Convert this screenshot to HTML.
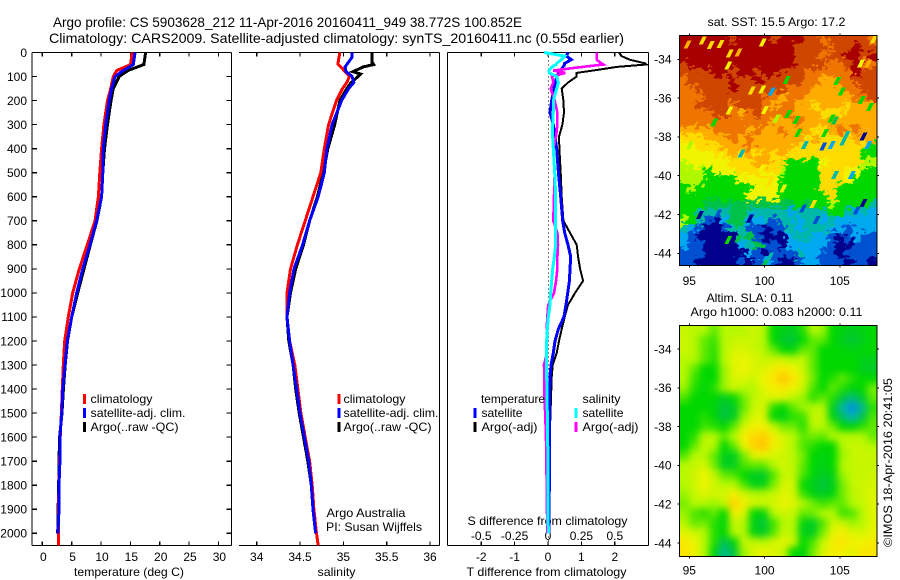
<!DOCTYPE html>
<html>
<head>
<meta charset="utf-8">
<title>Argo profile</title>
<style>
html,body{margin:0;padding:0;background:#fff;}
svg{display:block;}
text{font-family:"Liberation Sans",sans-serif;font-size:12px;fill:#000;}
</style>
</head>
<body>
<svg id="chart" xmlns="http://www.w3.org/2000/svg" width="900" height="580" viewBox="0 0 900 580">
<defs>
<clipPath id="clip-sst"><rect x="679.5" y="35.5" width="197.5" height="230"/></clipPath>
<clipPath id="clip-sla"><rect x="679.5" y="325.5" width="197.5" height="231"/></clipPath>
<filter id="smooth" x="-5%" y="-5%" width="110%" height="110%" color-interpolation-filters="sRGB"><feGaussianBlur stdDeviation="3.6"/></filter>
<filter id="jagged" filterUnits="userSpaceOnUse" x="660" y="20" width="240" height="260" color-interpolation-filters="sRGB">
<feTurbulence type="fractalNoise" baseFrequency="0.18 0.25" numOctaves="2" seed="4" result="noise"/>
<feDisplacementMap in="SourceGraphic" in2="noise" scale="16" xChannelSelector="R" yChannelSelector="G"/>
</filter>
</defs>
<text x="53" y="27" font-size="14" style="font-size:14px" textLength="469" lengthAdjust="spacingAndGlyphs">Argo profile: CS 5903628_212 11-Apr-2016 20160411_949 38.772S 100.852E</text>
<text x="49" y="43" style="font-size:14px" textLength="575" lengthAdjust="spacingAndGlyphs">Climatology: CARS2009. Satellite-adjusted climatology: synTS_20160411.nc (0.55d earlier)</text>
<text x="707.5" y="26" textLength="138" lengthAdjust="spacingAndGlyphs">sat. SST: 15.5 Argo: 17.2</text>
<text x="706.5" y="302" textLength="87" lengthAdjust="spacingAndGlyphs">Altim. SLA: 0.11</text>
<text x="690.5" y="316" textLength="172" lengthAdjust="spacingAndGlyphs">Argo h1000: 0.083 h2000: 0.11</text>
<text transform="translate(892,547) rotate(-90)" textLength="169" lengthAdjust="spacingAndGlyphs">©IMOS 18-Apr-2016 20:41:05</text>
<text x="326.5" y="517" textLength="79" lengthAdjust="spacingAndGlyphs">Argo Australia</text>
<text x="326" y="531" textLength="96" lengthAdjust="spacingAndGlyphs">PI: Susan Wijffels</text>
<text x="74" y="576" textLength="110" lengthAdjust="spacingAndGlyphs">temperature (deg C)</text>
<text x="317.5" y="576" textLength="38" lengthAdjust="spacingAndGlyphs">salinity</text>
<text x="466.5" y="576" textLength="160" lengthAdjust="spacingAndGlyphs">T difference from climatology</text>
<text x="467.5" y="525" textLength="160" lengthAdjust="spacingAndGlyphs">S difference from climatology</text>
</svg>
<script>
// ---- profile data ----
const depthTicks = [0,100,200,300,400,500,600,700,800,900,1000,1100,1200,1300,1400,1500,1600,1700,1800,1900,2000];
const tempTicks = [0,5,10,15,20,25,30];
const salTicks = [34,34.5,35,35.5,36];
const diffTicks = [-2,-1,0,1,2];
const salDiffLabels = ['-0.5','-0.25','0','0.25','0.5'];
const latTicks = [-34,-36,-38,-40,-42,-44];
const lonTicks = [95,100,105];

const tempDepths = [0,50,75,100,150,200,300,400,500,600,700,800,900,1000,1100,1200,1300,1400,1500,1600,1700,1800,1900,2000,2050];
const tempClim = [15.3,15.05,12.7,12.1,11.65,11.1,10.5,10.1,9.8,9.55,8.98,7.67,6.3,5.18,4.43,3.81,3.58,3.4,3.25,3.05,2.95,2.85,2.72,2.72,2.72];
const tempSat = [15.8,15.5,13.8,12.4,11.8,11.4,10.8,10.4,10.3,10.1,9.25,8.13,6.88,5.86,5.0,4.26,3.87,3.5,3.3,3.0,3.0,2.85,2.85,2.65];
const tempArgo = [17.6,17.3,14.6,13.1,12.1,11.7,11.1,10.6,10.3,10.1,9.3,8.2,7.1,6.03,5.0,4.3,3.9,3.6,3.35,2.95,2.85,2.8,2.7,2.62];

const salDepths = [0,20,40,50,60,80,90,100,125,150,200,300,400,500,600,700,800,900,1000,1100,1200,1300,1400,1500,1600,1700,1800,1900,2000,2050];
const salClim = [34.96,34.95,34.94,34.94,34.97,35.02,35.05,35.07,35.04,34.99,34.92,34.83,34.78,34.74,34.65,34.56,34.47,34.39,34.35,34.35,34.38,34.44,34.475,34.51,34.56,34.61,34.64,34.66,34.69,34.71];
const salSat = [35.10,35.10,35.06,35.04,35.02,35.03,35.07,35.10,35.12,35.06,34.98,34.87,34.81,34.78,34.71,34.61,34.53,34.43,34.38,34.35,34.38,34.42,34.46,34.50,34.55,34.60,34.63,34.65,34.68];
const salArgo = [35.33,35.33,35.33,35.35,35.23,35.11,35.20,35.17,35.09,35.04,34.96,34.90,34.82,34.77,34.70,34.61,34.54,34.45,34.39,34.35,34.37,34.42,34.45,34.49,34.54,34.59,34.63,34.65,34.68];

const diffDepths = [0,15,30,45,50,60,75,85,100,125,150,200,250,300,350,400,500,600,700,750,800,850,900,950,1000,1050,1100,1150,1200,1250,1300,1350,1400,1600,1800,2000];
const tDiffArgo = [2.13,2.2,2.45,2.9,2.95,2.06,1.36,.86,.86,.6,.41,.46,.48,.43,.33,.34,.38,.41,.46,.66,.86,.9,.96,1.05,.81,.6,.5,.41,.33,.26,.14,.11,.1,.05,.03,.02];
const tDiffSat = [.6,.55,.7,.5,.5,.45,.38,.32,.26,.22,.18,.11,.06,.16,.21,.26,.31,.38,.44,.5,.6,.68,.66,.64,.59,.54,.48,.31,.21,.16,.09,.06,.05,.04,.04,.03];
const sDiffArgo = [.364,.364,.364,.40,.414,.26,.04,.13,.03,.04,.02,.05,.07,.07,.06,.04,.05,.045,.04,.07,.075,.07,.07,.06,.045,.002,-.005,-.01,-.008,-.008,-.03,-.028,-.028,-.015,-.01,-.005];
const sDiffSat = [-.03,.125,.10,.065,.06,.03,.007,.01,.065,.077,.065,.04,.04,.035,.035,.04,.05,.058,.058,.058,.058,.047,.035,.028,.02,.015,.002,-.005,-.01,-.01,-.01,-.01,-.008,-.002,0,.002];

// ---- map data: colour-level grids, north to south, west to east ----
const sstGrid = [
[12,12,12,12,12,12,11,12,12,12,12,11,12,12,12,11,11,10,11,11,11,11,11,10],
[12,12,12,12,12,12,12,12,12,12,12,12,12,12,11,11,11,11,10,11,11,12,11,11],
[12,12,12,12,12,12,12,12,12,12,12,12,12,12,11,11,11,10,11,11,12,12,11,12],
[11,12,12,12,12,12,12,12,12,12,12,12,12,12,11,11,11,11,10,10,11,12,10,10],
[11,11,11,11,12,12,11,12,12,11,12,12,11,11,11,10,10,10,10,10,10,12,11,11],
[10,11,11,11,11,11,12,11,11,12,11,11,11,11,11,10,10,9,9,10,10,11,11,11],
[10,10,11,11,11,11,12,11,11,11,11,11,11,10,10,10,9,9,9,9,10,10,11,11],
[10,10,10,11,11,11,11,11,11,11,10,10,9,10,10,9,9,9,9,9,9,10,10,11],
[10,10,11,11,11,11,10,11,11,11,10,9,10,10,9,9,8,9,9,9,8,9,9,9],
[10,10,10,10,11,11,10,9,10,11,10,10,10,10,9,9,9,8,8,8,9,9,9,9],
[10,10,10,10,10,10,10,10,10,10,10,9,9,9,10,9,9,9,9,9,9,9,9,9],
[9,9,9,9,10,10,10,10,9,10,9,9,10,9,9,9,8,8,9,10,9,10,9,9],
[8,8,8,9,9,9,10,9,10,9,9,9,9,9,9,8,9,8,8,8,8,9,9,9],
[7,7,8,8,8,9,9,9,10,9,9,9,9,9,8,8,8,8,8,8,8,8,8,5],
[7,7,7,7,8,8,9,8,9,8,9,8,9,8,8,8,8,8,8,8,8,8,5,5],
[6,7,7,7,7,7,8,8,8,9,9,8,8,5,5,5,5,7,8,8,8,8,6,6],
[6,6,6,5,7,7,7,8,8,8,8,8,6,5,5,5,5,8,8,8,7,7,5,5],
[6,6,6,5,5,5,5,7,7,7,7,7,5,5,5,5,5,8,8,8,7,5,5,5],
[5,6,5,5,5,5,5,5,5,7,7,7,5,5,5,5,5,8,8,5,5,5,5,5],
[5,5,5,5,5,5,5,5,7,7,7,7,5,5,5,5,5,5,8,5,5,5,5,5],
[5,5,5,4,4,4,4,4,4,4,4,4,4,4,5,4,5,5,6,5,5,5,5,3],
[5,5,3,3,3,3,4,4,3,3,3,3,3,2,3,3,3,3,5,5,3,2,3,2],
[6,5,3,1,0,2,4,4,2,2,3,1,3,3,2,3,3,2,3,2,2,2,2,2],
[3,2,1,0,0,1,3,3,1,1,0,1,1,3,2,3,3,3,2,2,1,2,2,2],
[2,1,0,0,0,0,0,3,4,1,0,0,0,2,3,3,2,2,1,0,1,2,1,1],
[2,1,1,0,0,0,0,2,3,4,1,1,0,2,2,2,2,2,1,0,0,1,1,1],
[1,1,1,0,0,0,0,0,2,1,0,1,1,1,3,2,2,1,1,0,1,1,1,1],
[1,1,0,0,0,0,0,1,0,1,2,1,0,0,1,2,2,1,1,1,0,1,1,0]
];
const speckleLon = [94.89,95.89,96.42,97.08,97.70,98.26,99.87,97.59,99.85,100.47,101.47,104.83,99.14,105.12,106.41,106.89,107.27,106.45,107.00,104.68,104.46,102.13,101.58,100.03,100.80,97.66,96.66,95.04,98.48,97.04,102.69,103.90,104.46,105.45,106.56,104.01,105.23,106.89,102.24,101.25,100.36,99.81,103.24,105.79,104.68,102.57,103.24,106.56,106.12,104.79,97.59,98.26,100.03,100.36,103.46,99.03,96.93,95.71];
const speckleLat = [-33.23,-33.04,-33.26,-33.21,-33.69,-33.66,-33.14,-34.33,-35.55,-35.67,-35.07,-35.12,-35.62,-35.67,-34.21,-34.21,-32.97,-36.10,-36.47,-37.16,-37.04,-37.13,-36.82,-36.61,-37.04,-36.65,-37.26,-38.43,-38.85,-39.02,-38.42,-38.50,-38.42,-37.90,-37.99,-37.81,-38.24,-38.42,-37.81,-40.65,-40.31,-39.62,-40.48,-39.96,-39.96,-41.68,-41.46,-41.42,-41.80,-41.59,-43.31,-43.23,-44.52,-44.17,-42.28,-42.20,-41.94,-42.02];
const speckleLevel = [9,8,8,8,8,9,7,7,7,2,5,5,8,5,7,9,8,5,5,4,5,5,5,7,6,7,5,6,3,7,3,1,2,3,0,5,3,2,5,7,8,7,5,2,3,1,8,0,1,5,5,4,4,3,1,0,1,0];
const slaGrid = [
[6.2,6,6,5.5,6,6,6,6.3,6,5,4.7,4.6,5.2,6,5.8,5,4.8,4.6,4.8,5],
[6.3,6,5.5,5.3,6,6.2,6.3,6.2,6,5,4.4,4.3,5,5.5,5.5,5,4.6,4.3,4.6,5],
[6.3,6,5.5,5.2,6,6.4,6.5,6.3,6,5.5,5,4.8,5.5,5.5,5,5,4.9,4.8,4.9,5],
[6,6,5.5,5.2,6,6.6,6.7,6.5,6.2,6.3,6.3,6,6.2,5.5,5,5,5,5,4.7,4.7],
[6,5.5,5,5,5.8,6.6,6.8,6.5,6.5,7,7.3,6.8,6.3,5.5,5,5,5,5,4.6,4.5],
[6,5.3,5,5,5.8,6.5,6.5,6.3,6.8,7.4,8.2,7.4,6.5,5.6,5,5.2,5.5,5.2,5,5],
[5.8,5.2,4.9,5.2,5.8,6.3,6,6,6.6,7,7.3,6.8,6.3,5.4,5,5.5,5.2,4.8,5,5.6],
[5.4,5,5,5,4.6,5,5.6,6.1,6.4,6.6,6.5,6.1,5.8,5.2,5.5,5.2,4.2,3.6,4.4,5.5],
[5,5,5,4.8,4.2,4.5,5.5,6.2,6.5,5.2,5,5.5,5.8,6,6,4.6,3.2,2,3.4,5.2],
[5,5,5.2,4.9,4.2,4.6,5.8,6.5,6.5,5,4.7,5.2,5.3,6.2,6.2,4.8,3.8,3,4,5.4],
[5,5,5.3,5.2,5,5.5,6.4,6.8,6.9,6.3,5.6,5.6,5.2,6,6,5.6,5,4.8,5.2,5.5],
[5,5.2,6,6,5.5,6,7,7.8,8,7,6.4,6,5.5,5.6,5.5,6,6,6,6,5.5],
[5,5.5,6.2,6,5,5.5,6.8,7.9,8.2,7,6.5,6,5.4,5.2,5,5,6,6.2,6.2,6],
[5.4,6,6,5.5,4.7,4.6,5.6,6.6,6.8,6.4,6.3,6,5.6,5,4.8,5,5.8,6.2,6.3,6.2],
[6,6.2,6.4,5.6,4.6,4.6,5.4,5.5,5.5,6,6.4,6.1,5.5,5,4.7,5,6,6.2,6.2,6.2],
[6,6.3,6.8,6.2,5.5,5.4,5,4.6,4.5,5.4,6.2,6.2,5.4,4.9,4.5,4.8,5.8,6.2,6.2,6.3],
[6,6.3,6.8,6.3,6,6,5.4,4.7,4.7,5.6,6.4,6.4,5,4.6,4.2,4.6,5.6,6.2,6.3,6.4],
[5.8,6.2,6.5,6.4,6.4,7,6.4,6,6,6.2,6.6,6.4,5.3,4.8,4.5,4.8,5.6,6,6.3,6.5],
[5.6,6,6,5.8,6.2,7.9,7,6.4,6.3,6.4,6.7,6.6,6,5.6,5.3,5.5,5.5,6,6.2,6.6],
[5.8,5.4,5.2,5.5,5,7,6.5,5,4.8,6,6.3,6.2,5.5,5.6,6,6,5.3,5.4,6,6.6],
[6,5.5,5.6,5.2,4.8,6.2,6,4.7,4.3,5.3,6,6,4.8,4.5,5.4,6.3,6.3,5.8,6,6.6],
[6.6,6.3,6,5.2,5,6,6,4.8,4.5,5.4,6.2,6,4.7,4.6,5.6,6.6,7,6.5,6.4,6.7],
[7.2,6.8,6,5.2,4,4.8,6.2,6.2,6,6.4,6.6,6.4,5,5.4,6.2,7,7.4,6.8,6.8,7.2],
[7.4,6.8,6,4.8,3.4,4.2,5.8,6.5,6.7,6.5,6.3,5,4.8,5.6,6.5,7,7,6.6,7.3,7.4]
];
const palette = [[0,0,140],[0,80,210],[0,168,240],[0,184,170],[0,194,70],[0,216,0],[176,248,0],[240,244,0],[255,220,0],[255,172,0],[238,118,0],[206,70,0],[168,0,0]];

// ---- axis functions ----
const svg = document.getElementById('chart');
const NS = 'http://www.w3.org/2000/svg';
const yDepth = d => 52.5 + d * 0.2404;
const xTemp = t => 42.3 + t * 5.87;
const xSal = s => 256.7 + (s - 34) * 86.67;
const xTDiff = t => 548 + t * 33.4;
const xSDiff = s => 548 + s * 133.6;
const xLon = l => 689.3 + (l - 95) * 15.05;
const ySst = l => 59.3 + (-34 - l) * 19.4;
const ySla = l => 349 + (-34 - l) * 19.4;

function mk(tag, name, interactable, attrs, parent) {
  const el = document.createElementNS(NS, tag);
  
  
  for (const k in attrs) el.setAttribute(k, attrs[k]);
  (parent || svg).appendChild(el);
  return el;
}
function line(name, x1, y1, x2, y2, w) {
  return mk('line', name, 'false', {x1:x1, y1:y1, x2:x2, y2:y2, stroke:'#000', 'stroke-width':w || 1.2, 'shape-rendering':'crispEdges'});
}
function label(name, str, x, y, anchor, lenPx) {
  const attrs = {x:x, y:y, 'text-anchor':anchor || 'start'};
  if (lenPx) { attrs.textLength = lenPx; attrs.lengthAdjust = 'spacingAndGlyphs'; }
  const t = mk('text', name, 'false', attrs);
  t.textContent = str;
  return t;
}
function profile(name, vals, depths, xf, color, w) {
  const pts = vals.map((v, i) => xf(v).toFixed(1) + ',' + yDepth(depths[i]).toFixed(1)).join(' ');
  return mk('polyline', name, 'false', {points:pts, fill:'none', stroke:color, 'stroke-width':w, 'stroke-linejoin':'miter', 'shape-rendering':'crispEdges'});
}
function swatch(name, x, yc, color) {
  return mk('rect', name, 'false', {x:x, y:yc - 5, width:3, height:10, fill:color, 'shape-rendering':'crispEdges'});
}
function levelColor(v) {
  const c = Math.max(0, Math.min(palette.length - 1, v));
  const i = Math.floor(c), j = Math.min(palette.length - 1, i + 1), f = c - i;
  const m = palette[i].map((a, k) => Math.round(a + (palette[j][k] - a) * f));
  return 'rgb(' + m.join(',') + ')';
}

// ---- panel frames ----
const panelTop = yDepth(0), panelBottom = 545.5;
const p1L = 32, p1R = 231.5, p2L = 239, p2R = 439.5, p3L = 447.5, p3R = 648.5;
line('temperature-panel-top', p1L, panelTop, p1R, panelTop);
line('temperature-panel-bottom', p1L, panelBottom, p1R, panelBottom);
line('temperature-panel-left', p1L, panelTop, p1L, panelBottom);
line('temperature-panel-right', p1R, panelTop, p1R, panelBottom);
line('salinity-panel-top', p2L, panelTop, p2R, panelTop);
line('salinity-panel-bottom', p2L, panelBottom, p2R, panelBottom);
line('salinity-panel-right', p2R, panelTop, p2R, panelBottom);
line('difference-panel-top', p3L, panelTop, p3R, panelTop);
line('difference-panel-bottom', p3L, panelBottom, p3R, panelBottom);
line('difference-panel-left', p3L, panelTop, p3L, panelBottom);
line('difference-panel-right', p3R, panelTop, p3R, panelBottom);

depthTicks.forEach(d => {
  line('depth-tick-left', p1L, yDepth(d), p1L + 5, yDepth(d));
  line('depth-tick-right', p1R - 5, yDepth(d), p1R, yDepth(d));
  label('depth-tick-label', String(d), 27, yDepth(d) + 4.3, 'end');
});
tempTicks.forEach(t => {
  line('temperature-tick-top', xTemp(t), panelTop, xTemp(t), panelTop + 4);
  line('temperature-tick-bottom', xTemp(t), panelBottom - 4, xTemp(t), panelBottom);
  label('temperature-tick-label', String(t), xTemp(t) + 1, 561, 'middle');
});
salTicks.forEach(s => {
  line('salinity-tick-top', xSal(s), panelTop, xSal(s), panelTop + 4);
  line('salinity-tick-bottom', xSal(s), panelBottom - 4, xSal(s), panelBottom);
  label('salinity-tick-label', String(s), xSal(s), 561, 'middle');
});
diffTicks.forEach((t, i) => {
  line('difference-tick-top', xTDiff(t), panelTop, xTDiff(t), panelTop + 4);
  line('difference-tick-bottom', xTDiff(t), panelBottom - 4, xTDiff(t), panelBottom);
  label('t-difference-tick-label', String(t), xTDiff(t), 561, 'middle');
  label('s-difference-tick-label', salDiffLabels[i], xTDiff(t), 540, 'middle');
});
mk('line', 'zero-difference-line', 'false', {x1:548.5, y1:panelTop, x2:548.5, y2:panelBottom, stroke:'#000', 'stroke-width':1, 'stroke-dasharray':'1 3', 'shape-rendering':'crispEdges'});

// ---- profile series ----
profile('temperature-argo-line', tempArgo, tempDepths, xTemp, '#000', 3);
profile('temperature-climatology-line', tempClim, tempDepths, xTemp, '#f00', 3);
profile('temperature-satellite-line', tempSat, tempDepths, xTemp, '#00f', 3);
profile('salinity-argo-line', salArgo, salDepths, xSal, '#000', 3);
profile('salinity-climatology-line', salClim, salDepths, xSal, '#f00', 3);
profile('salinity-satellite-line', salSat, salDepths, xSal, '#00f', 3);
profile('t-difference-argo-line', tDiffArgo, diffDepths, xTDiff, '#000', 2);
profile('t-difference-satellite-line', tDiffSat, diffDepths, xTDiff, '#00f', 3);
profile('s-difference-argo-line', sDiffArgo, diffDepths, xSDiff, '#f0f', 2.6);
profile('s-difference-satellite-line', sDiffSat, diffDepths, xSDiff, '#0ff', 3);

// ---- legends ----
swatch('legend-temp-climatology-swatch', 83, 399, '#f00');
label('legend-temp-climatology', 'climatology', 90.5, 403, 'start', 62);
swatch('legend-temp-satellite-swatch', 83, 413, '#00f');
label('legend-temp-satellite', 'satellite-adj. clim.', 90.5, 417, 'start', 95);
swatch('legend-temp-argo-swatch', 83, 427, '#000');
label('legend-temp-argo', 'Argo(..raw -QC)', 90.5, 431, 'start', 88);
swatch('legend-sal-climatology-swatch', 337.5, 399, '#f00');
label('legend-sal-climatology', 'climatology', 343.5, 403, 'start', 62);
swatch('legend-sal-satellite-swatch', 337.5, 413, '#00f');
label('legend-sal-satellite', 'satellite-adj. clim.', 343.5, 417, 'start', 95);
swatch('legend-sal-argo-swatch', 337.5, 427, '#000');
label('legend-sal-argo', 'Argo(..raw -QC)', 343.5, 431, 'start', 88);
label('legend-temperature-heading', 'temperature', 481, 403, 'start', 64);
swatch('legend-t-satellite-swatch', 473.5, 413, '#00f');
label('legend-t-satellite', 'satellite', 481.5, 417, 'start', 41);
swatch('legend-t-argo-swatch', 473.5, 427, '#000');
label('legend-t-argo', 'Argo(-adj)', 481.5, 431, 'start', 56);
label('legend-salinity-heading', 'salinity', 582.5, 403, 'start', 38);
swatch('legend-s-satellite-swatch', 574.5, 413, '#0ff');
label('legend-s-satellite', 'satellite', 582.5, 417, 'start', 41);
swatch('legend-s-argo-swatch', 574.5, 427, '#f0f');
label('legend-s-argo', 'Argo(-adj)', 582.5, 431, 'start', 56);

// ---- SST map ----
const mapL = 679.5, mapW = 197.5, sstT = 35.5, sstH = 230, slaT = 325.5, slaH = 231;
const sstClip = mk('g', 'sst-heatmap', 'false', {'clip-path':'url(#clip-sst)'});
const sstGroup = mk('g', 'sst-cells', 'false', {'shape-rendering':'crispEdges', filter:'url(#jagged)'}, sstClip);
const sstRows = sstGrid.length, sstCols = sstGrid[0].length;
const sstCellW = mapW / sstCols, sstCellH = sstH / sstRows;
const edgePad = 10;
sstGrid.forEach((row, r) => row.forEach((v, c) => {
  const x0 = mapL + c * sstCellW - (c === 0 ? edgePad : 0);
  const x1 = mapL + (c + 1) * sstCellW + (c === sstCols - 1 ? edgePad : .5);
  const y0 = sstT + r * sstCellH - (r === 0 ? edgePad : 0);
  const y1 = sstT + (r + 1) * sstCellH + (r === sstRows - 1 ? edgePad : .5);
  mk('rect', 'sst-cell', 'false', {x:x0, y:y0, width:x1 - x0, height:y1 - y0, fill:levelColor(v)}, sstGroup);
}));
speckleLevel.forEach((v, i) => {
  const x = xLon(speckleLon[i]), y = ySst(speckleLat[i]);
  const pts = [[x - 4, y + 4], [x, y + 4], [x + 4, y - 4], [x, y - 4]].map(p => p.join(',')).join(' ');
  mk('polygon', 'sst-speckle', 'false', {points:pts, fill:levelColor(v), 'shape-rendering':'crispEdges'}, sstClip);
});

// ---- SLA map ----
const slaClip = mk('g', 'sla-heatmap', 'false', {'clip-path':'url(#clip-sla)'});
mk('rect', 'sla-background', 'false', {x:mapL, y:slaT, width:mapW, height:slaH, fill:levelColor(5.8)}, slaClip);
const slaGroup = mk('g', 'sla-cells', 'false', {filter:'url(#smooth)'}, slaClip);
const slaRows = slaGrid.length, slaCols = slaGrid[0].length;
const slaCellW = mapW / slaCols, slaCellH = slaH / slaRows;
slaGrid.forEach((row, r) => row.forEach((v, c) => {
  const x0 = mapL + c * slaCellW - (c === 0 ? edgePad : 0);
  const x1 = mapL + (c + 1) * slaCellW + (c === slaCols - 1 ? edgePad : .5);
  const y0 = slaT + r * slaCellH - (r === 0 ? edgePad : 0);
  const y1 = slaT + (r + 1) * slaCellH + (r === slaRows - 1 ? edgePad : .5);
  mk('rect', 'sla-cell', 'false', {x:x0, y:y0, width:x1 - x0, height:y1 - y0, fill:levelColor(6.1 + (v - 6) * 1.1)}, slaGroup);
}));

// ---- map axes ----
function mapAxes(prefix, t, h, yf, labelY) {
  mk('rect', prefix + '-frame', 'false', {x:mapL, y:t, width:mapW, height:h, fill:'none', stroke:'#000', 'stroke-width':1, 'shape-rendering':'crispEdges'});
  latTicks.forEach(l => {
    line(prefix + '-lat-tick-left', mapL - 2, yf(l), mapL, yf(l), 1);
    line(prefix + '-lat-tick-right', mapL + mapW, yf(l), mapL + mapW + 2, yf(l), 1);
    label(prefix + '-lat-label', String(l), 671.5, yf(l) + 4.3, 'end');
  });
  lonTicks.forEach(l => {
    line(prefix + '-lon-tick-top', xLon(l), t - 2, xLon(l), t, 1);
    line(prefix + '-lon-tick-bottom', xLon(l), t + h, xLon(l), t + h + 2, 1);
    label(prefix + '-lon-label', String(l), xLon(l), labelY, 'middle');
  });
}
mapAxes('sst-map', sstT, sstH, ySst, 285);
mapAxes('sla-map', slaT, slaH, ySla, 574.5);
</script>
</body>
</html>
